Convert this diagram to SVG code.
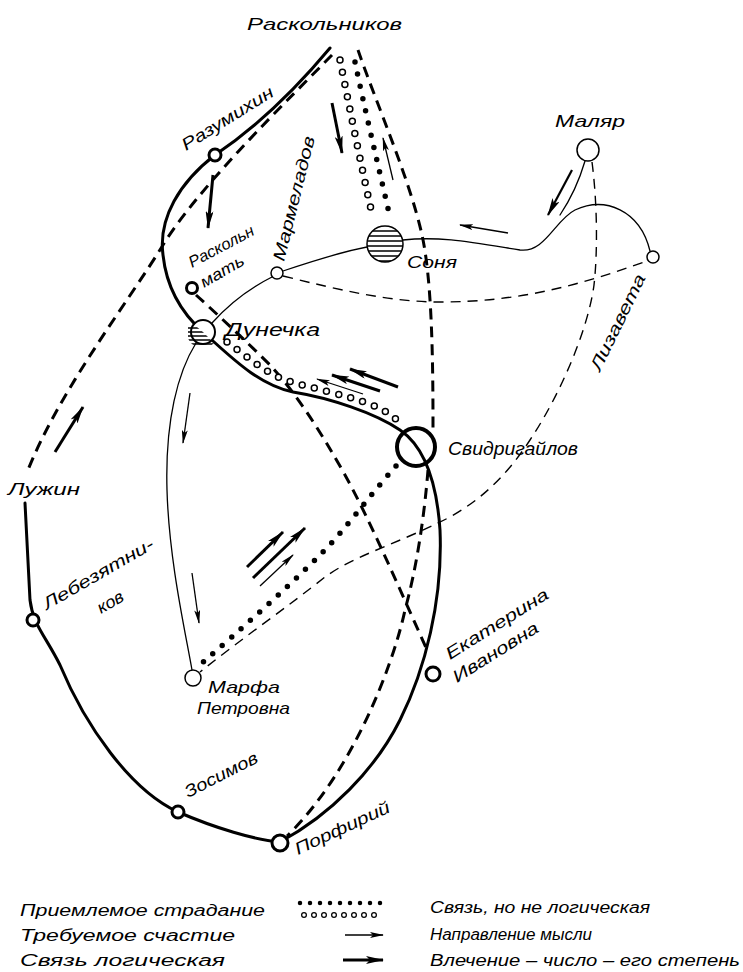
<svg xmlns="http://www.w3.org/2000/svg" width="743" height="972" viewBox="0 0 743 972">
<style>
.lb{font-family:"Liberation Sans","DejaVu Sans",sans-serif;font-style:italic;font-size:17px;fill:#000}
.lg{font-family:"Liberation Sans","DejaVu Sans",sans-serif;font-style:italic;font-size:16px;fill:#000}
.thick{fill:none;stroke:#000;stroke-width:3;stroke-linecap:round;stroke-linejoin:round}
.thin{fill:none;stroke:#000;stroke-width:1.3;stroke-linecap:round}
.dashT{fill:none;stroke:#000;stroke-width:3;stroke-dasharray:11 7}
.dash{fill:none;stroke:#000;stroke-width:1.4;stroke-dasharray:10 7}
.dots{fill:none;stroke:#000;stroke-width:5.5;stroke-linecap:round;stroke-dasharray:0 12.5}
.ringO{fill:none;stroke:#000;stroke-width:7.5;stroke-linecap:round;stroke-dasharray:0 12.5}
.ringI{fill:none;stroke:#fff;stroke-width:4.5;stroke-linecap:round;stroke-dasharray:0 12.5}
.arT{fill:none;stroke:#000;stroke-width:3;marker-end:url(#hk)}
.arM{fill:none;stroke:#000;stroke-width:2.2;marker-end:url(#hk)}
.arN{fill:none;stroke:#000;stroke-width:1.3;marker-end:url(#hn)}
.nd{fill:#fff;stroke:#000;stroke-width:3}
.nt{fill:#fff;stroke:#000;stroke-width:1.5}
.hatch{stroke:#000;stroke-width:1.3}
</style>
<defs>
<marker id="hk" viewBox="0 0 18 8" refX="17" refY="4" markerWidth="18" markerHeight="8" markerUnits="userSpaceOnUse" orient="auto">
<path d="M0,0 L18,4 L0,8 L4,4 z" fill="#000"/>
</marker>
<marker id="hn" viewBox="0 0 14 6" refX="13" refY="3" markerWidth="14" markerHeight="6" markerUnits="userSpaceOnUse" orient="auto">
<path d="M0,0 L14,3 L0,6 L3,3 z" fill="#000"/>
</marker>
<clipPath id="cSon"><circle cx="385" cy="244" r="18"/></clipPath>
<clipPath id="cDun"><path d="M191,322 L203,332 L214,343 A12,12 0 0 1 191,322 z"/></clipPath>
</defs>

<g id="connectors">
<path class="thick" d="M330,48 C295,90 255,128 215,155 C180,182 158,218 163,255 C167,292 185,316 203,332 C230,356 258,385 293,392 C330,398 375,413 400,430 C425,447 437,485 440,530 C443,600 425,670 400,720 C375,770 330,815 280,842"/>
<path class="thick" d="M280,842 C255,840 215,828 178,812 C130,790 85,725 60,665 C45,635 33,625 30,600 L25,503"/>
<path class="dashT" d="M332,55 C290,98 200,185 163,245 S60,390 28,470"/>
<path class="dashT" d="M358,50 C375,100 410,180 422,235 C432,280 433,360 433,428"/>
<path class="dashT" d="M428,470 C424,520 416,570 405,610 C392,670 350,775 287,836"/>
<path class="dashT" d="M196,295 C218,315 245,340 270,365 C295,392 320,430 345,475 C370,520 400,590 428,652"/>
<path class="ringO" d="M340,60 C350,110 362,170 373,218"/>
<path class="ringI" d="M340,60 C350,110 362,170 373,218"/>
<path class="dots" d="M355,62 C365,110 378,165 390,217"/>
<path class="ringO" d="M227,342 C245,355 262,370 282,379 C310,388 350,396 372,405 C382,409 390,414 398,421"/>
<path class="ringI" d="M227,342 C245,355 262,370 282,379 C310,388 350,396 372,405 C382,409 390,414 398,421"/>
<path class="dots" d="M396,466 C370,495 345,530 320,555 C285,590 240,630 202,663"/>
<path class="thin" d="M283,271 C310,262 340,252 367,247"/>
<path class="thin" d="M403,240 C440,236 470,242 520,250 C545,253 555,220 575,210 C605,196 640,210 650,251"/>
<path class="thin" d="M585,161 C578,185 570,200 560,215"/>
<path class="thin" d="M272,277 C250,288 228,305 212,323"/>
<path class="thin" d="M196,343 C178,372 165,420 167,490 C169,560 185,630 192,670"/>
<path class="dash" d="M283,276 C340,290 390,302 440,302 C520,302 580,285 647,261"/>
<path class="dash" d="M592,162 C597,200 598,250 594,285 C588,330 560,395 530,440 C505,478 480,500 450,517 C400,543 355,555 325,577 C290,605 240,640 200,672"/>
<path class="arT" d="M332,103 L342,153"/>
<path class="arT" d="M213,175 L208,228"/>
<path class="arN" d="M393,180 L383,138"/>
<path class="arM" d="M572,170 L548,215"/>
<path class="arN" d="M508,233 L460,225"/>
<path class="arT" d="M55,452 L83,407"/>
<path class="arN" d="M190,393 L183,443"/>
<path class="arN" d="M192,573 L199,623"/>
<path class="arT" d="M398,387 L350,369"/>
<path class="arT" d="M380,391 L332,375"/>
<path class="arN" d="M363,394 L317,379"/>
<path class="arT" d="M247,567 L283,532"/>
<path class="arT" d="M253,578 L305,528"/>
<path class="arN" d="M260,586 L293,555"/>
</g>

<g id="raskolnikov"><text class="lb" x="247" y="30" textLength="155" lengthAdjust="spacingAndGlyphs">Раскольников</text></g>
<g id="razumikhin"><circle class="nd" cx="215" cy="155" r="6"/><text class="lb" transform="translate(186,151) rotate(-32)" textLength="105" lengthAdjust="spacingAndGlyphs">Разумихин</text></g>
<g id="rask-mat"><circle class="nd" cx="192" cy="288" r="5.5"/><text class="lb" style="font-size:16px" transform="translate(192,268) rotate(-28)" textLength="72" lengthAdjust="spacingAndGlyphs">Раскольн</text><text class="lb" style="font-size:16px" transform="translate(204,288) rotate(-30)" textLength="48" lengthAdjust="spacingAndGlyphs">мать</text></g>
<g id="marmeladov"><circle class="nt" cx="277" cy="273" r="6"/><text class="lb" transform="translate(284,262) rotate(-76)" textLength="128" lengthAdjust="spacingAndGlyphs">Мармеладов</text></g>
<g id="sonya"><circle cx="385" cy="244" r="18" fill="#fff" stroke="#000" stroke-width="1.5"/>
<g clip-path="url(#cSon)"><path class="hatch" d="M360,231 H410 M360,236 H410 M360,241 H410 M360,246 H410 M360,251 H410 M360,256 H410 M360,261 H410"/></g>
<text class="lb" x="407" y="268" textLength="50" lengthAdjust="spacingAndGlyphs">Соня</text></g>
<g id="malyar"><circle class="nt" cx="588" cy="150" r="11"/><text class="lb" x="555" y="127" textLength="70" lengthAdjust="spacingAndGlyphs">Маляр</text></g>
<g id="lizaveta"><circle class="nt" cx="653" cy="257" r="6"/><text class="lb" transform="translate(600,372) rotate(-64)" textLength="105" lengthAdjust="spacingAndGlyphs">Лизавета</text></g>
<g id="dunechka"><circle cx="203" cy="332" r="12" fill="#fff" stroke="#000" stroke-width="2"/>
<g clip-path="url(#cDun)"><path class="hatch" d="M188,328 H216 M188,332 H216 M188,336 H216 M188,340 H216 M188,344 H216"/></g>
<text class="lb" style="font-size:18px" x="225" y="336" textLength="95" lengthAdjust="spacingAndGlyphs">Дунечка</text></g>
<g id="svidrigailov"><circle cx="416" cy="447" r="19" fill="none" stroke="#000" stroke-width="4"/><text class="lb" style="font-size:18px" x="448" y="455" textLength="130" lengthAdjust="spacingAndGlyphs">Свидригайлов</text></g>
<g id="luzhin"><text class="lb" x="8" y="495" textLength="72" lengthAdjust="spacingAndGlyphs">Лужин</text></g>
<g id="lebezyatnikov"><circle class="nd" cx="33" cy="620" r="6"/><text class="lb" transform="translate(47,610) rotate(-30)" textLength="125" lengthAdjust="spacingAndGlyphs">Лебезятни-</text><text class="lb" transform="translate(101,614) rotate(-30)" textLength="28" lengthAdjust="spacingAndGlyphs">ков</text></g>
<g id="marfa"><circle class="nt" cx="193" cy="678" r="8"/><text class="lb" x="208" y="693" textLength="72" lengthAdjust="spacingAndGlyphs">Марфа</text><text class="lb" x="197" y="714" textLength="93" lengthAdjust="spacingAndGlyphs">Петровна</text></g>
<g id="ekaterina"><circle class="nd" cx="433" cy="674" r="7"/><text class="lb" transform="translate(450,660) rotate(-32)" textLength="118" lengthAdjust="spacingAndGlyphs">Екатерина</text><text class="lb" transform="translate(457,683) rotate(-32)" textLength="98" lengthAdjust="spacingAndGlyphs">Ивановна</text></g>
<g id="zosimov"><circle class="nd" cx="178" cy="812" r="6"/><text class="lb" transform="translate(188,798) rotate(-27)" textLength="80" lengthAdjust="spacingAndGlyphs">Зосимов</text></g>
<g id="porfiry"><circle class="nd" cx="280" cy="843" r="8"/><text class="lb" transform="translate(298,855) rotate(-25)" textLength="103" lengthAdjust="spacingAndGlyphs">Порфирий</text></g>

<g id="legend">
<text class="lg" x="20" y="916" textLength="245" lengthAdjust="spacingAndGlyphs">Приемлемое страдание</text>
<text class="lg" x="20" y="941" textLength="215" lengthAdjust="spacingAndGlyphs">Требуемое счастие</text>
<text class="lg" x="20" y="966" textLength="205" lengthAdjust="spacingAndGlyphs">Связь логическая</text>
<path class="dots" style="stroke-width:4.5;stroke-dasharray:0 10" d="M300,903 H381"/>
<path class="ringO" style="stroke-width:6;stroke-dasharray:0 10" d="M304,915 H375"/>
<path class="ringI" style="stroke-width:3.5;stroke-dasharray:0 10" d="M304,915 H375"/>
<path class="arN" d="M345,935 L383,935"/>
<path class="arT" d="M343,960 L383,960"/>
<text class="lg" x="430" y="913" textLength="220" lengthAdjust="spacingAndGlyphs">Связь, но не логическая</text>
<text class="lg" x="430" y="940" textLength="162" lengthAdjust="spacingAndGlyphs">Направление мысли</text>
<text class="lg" x="430" y="966" textLength="310" lengthAdjust="spacingAndGlyphs">Влечение – число – его степень</text>
</g>
</svg>
